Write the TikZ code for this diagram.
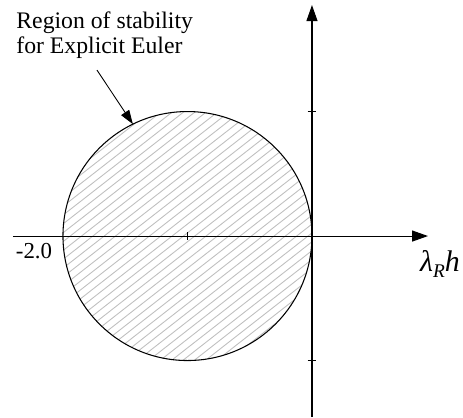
\documentclass[tikz,border=0pt]{standalone}
\usepackage{fontspec}
\setmainfont{Liberation Serif}
\usetikzlibrary{arrows.meta}

\begin{document}
\begin{tikzpicture}[scale=2.49,line join=bevel,
    axis/.style={line width=0.6pt,-{Triangle[length=0.32cm,width=0.22cm]}},
    hatch/.style={gray!50,line width=0.5pt},
    pointer/.style={line width=0.5pt,-{Triangle[length=0.28cm,width=0.19cm]}}]
    \useasboundingbox (-2.506,-1.454) rectangle (1.213,1.896);
    \coordinate (0) at (0,0);
    \coordinate (c) at (-1,0);
    \coordinate (W) at (-2.402,0);
    \coordinate (E) at (0.932,0);
    \coordinate (S) at (0,-1.454);
    \coordinate (N) at (0,1.855);
    \coordinate (tip) at ([shift={(-1,0)}]116:1);

%   hatched disc
    \begin{scope}
        \clip (c) circle (1);
        \begin{scope}[shift={(-1,0)},rotate=38]
            \foreach \y in {-1.1,-1.044,...,1.15}
                \draw[hatch] (-1.2,\y) -- (1.2,\y);
        \end{scope}
    \end{scope}
    \draw[line width=0.6pt] (c) circle (1);

    \draw[axis] (W) -- (E);
    \draw[axis] (S) -- (N);
    \draw[line width=0.6pt] (-1,-0.03) -- (-1,0.03);
    \draw[line width=0.6pt] (-0.035,1) -- (0.035,1);
    \draw[line width=0.6pt] (-0.035,-1) -- (0.035,-1);

    \node[anchor=north west,align=left,inner sep=0pt,font=\fontsize{13.5}{14.5}\selectfont] (lbl) at (-2.377,1.805)
        {Region of stability\\for Explicit Euler};
    \draw[pointer] (-1.727,1.333) -- (tip);
    \node[font=\fontsize{13}{15}\selectfont] (m2) at (-2.233,-0.12) {-2.0};
    \node[font=\fontsize{17}{19}\selectfont] (xlbl) at (1.028,-0.225)
        {\textit{λ}\raisebox{-0.45ex}{\fontsize{11}{12}\selectfont\textit{R}}\textit{h}};
\end{tikzpicture}
\end{document}
